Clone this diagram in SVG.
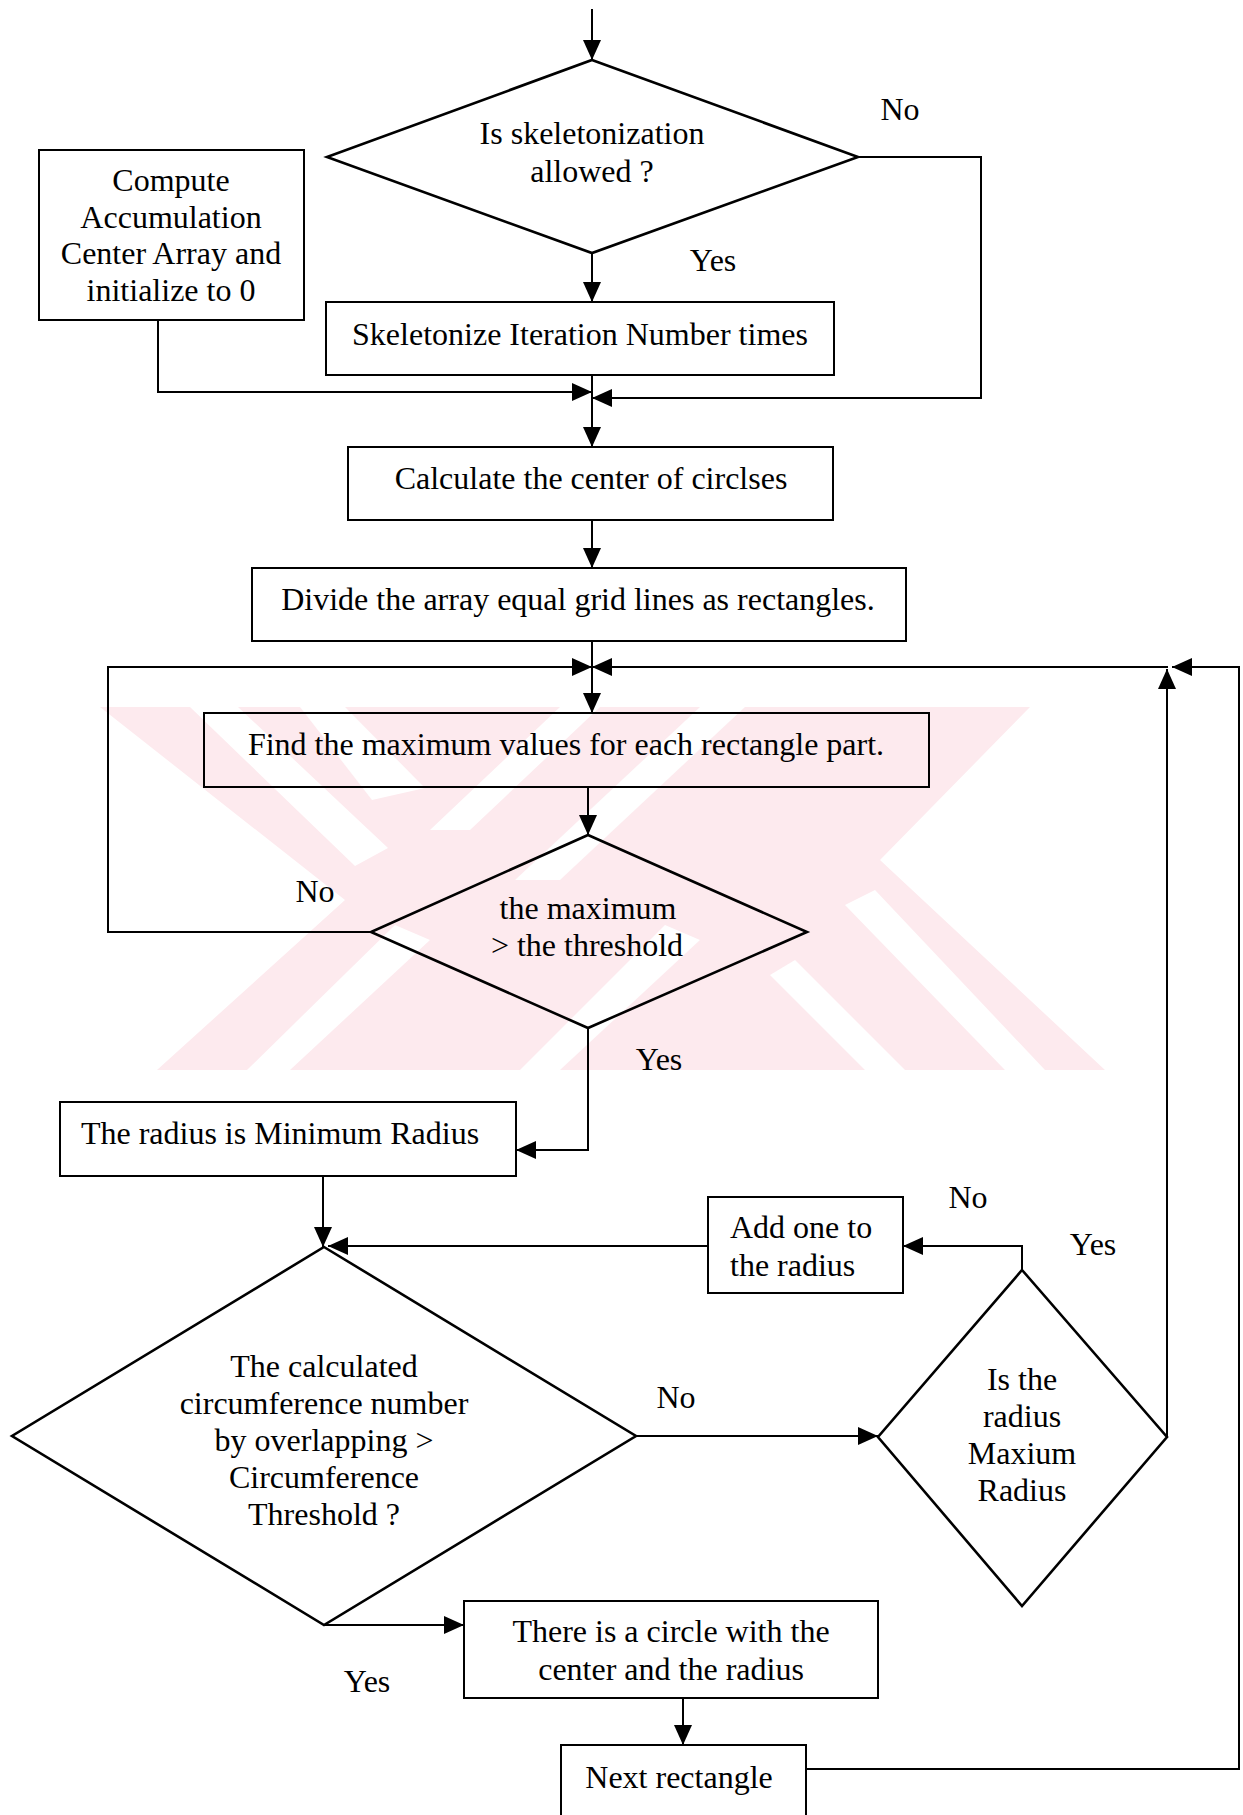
<svg xmlns="http://www.w3.org/2000/svg" width="1243" height="1815" viewBox="0 0 1243 1815">
  <defs>
    <marker id="arrow" viewBox="0 0 20 18" refX="20" refY="9" markerWidth="20" markerHeight="18" markerUnits="userSpaceOnUse" orient="auto">
      <path d="M0,0 L20,9 L0,18 z" fill="#000"/>
    </marker>
  </defs>
  <style>
    .box { fill: none; stroke: #000; stroke-width: 2; }
    .dia { fill: none; stroke: #000; stroke-width: 2.6; stroke-linejoin: miter; }
    .edge { fill: none; stroke: #000; stroke-width: 2; marker-end: url(#arrow); }
    text { font-family: "Liberation Serif", "Times New Roman", serif; font-size: 32px; fill: #000; }
    .c { text-anchor: middle; }
    .wm { fill: #fdeaee; }
    .gap { fill: #fff; }
  </style>

  <rect x="0" y="0" width="1243" height="1815" fill="#fff"/>

  <!-- faint background emblem: pale field cut by diagonal stripes -->
  <g id="emblem">
    <polygon class="wm" points="100,707 1030,707 880,860 1105,1070 157,1070 345,900"/>
    <polygon class="gap" points="190,707 238,707 388,848 355,866"/>
    <polygon class="gap" points="300,707 345,707 425,788 372,800"/>
    <polygon class="gap" points="560,707 600,707 470,830 430,830"/>
    <polygon class="gap" points="700,707 745,707 560,880 515,880"/>
    <polygon class="gap" points="247,1070 290,1070 430,940 395,925"/>
    <polygon class="gap" points="520,1070 560,1070 700,940 665,925"/>
    <polygon class="gap" points="845,905 875,890 1045,1070 1005,1070"/>
    <polygon class="gap" points="770,975 795,960 905,1070 865,1070"/>
  </g>

  <!-- connectors -->
  <g id="connectors">
    <path class="edge" d="M592,9 V60"/>
    <path class="edge" d="M592,253 V302"/>
    <path class="edge" d="M858,157 H981 V398 H592"/>
    <path class="edge" d="M158,320 V392 H592"/>
    <path class="edge" d="M592,375 V447"/>
    <path class="edge" d="M592,520 V568"/>
    <path class="edge" d="M592,641 V713"/>
    <path class="edge" d="M371,932 H108 V667 H592"/>
    <path class="edge" d="M1168,667 H592"/>
    <path class="edge" d="M806,1769 H1239 V667 H1172"/>
    <path class="edge" d="M1167,1437 V669"/>
    <path class="edge" d="M588,787 V835"/>
    <path class="edge" d="M588,1028 V1150 H516"/>
    <path class="edge" d="M323,1176 V1247"/>
    <path class="edge" d="M1022,1270 V1246 H903"/>
    <path class="edge" d="M708,1246 H328"/>
    <path class="edge" d="M636,1436 H878"/>
    <path class="edge" d="M324,1625 H464"/>
    <path class="edge" d="M683,1698 V1745"/>
  </g>

  <!-- decision: skeletonization -->
  <g id="n-skel-allowed">
    <polygon class="dia" points="592,60 858,157 592,253 327,157"/>
    <text class="c" x="592" y="144">Is skeletonization</text>
    <text class="c" x="592" y="182">allowed ?</text>
  </g>

  <g id="n-compute-acc">
    <rect class="box" x="39" y="150" width="265" height="170"/>
    <text class="c" x="171" y="191">Compute</text>
    <text class="c" x="171" y="228">Accumulation</text>
    <text class="c" x="171" y="264">Center Array and</text>
    <text class="c" x="171" y="301">initialize to 0</text>
  </g>

  <g id="n-skeletonize">
    <rect class="box" x="326" y="302" width="508" height="73"/>
    <text class="c" x="580" y="345">Skeletonize Iteration Number times</text>
  </g>

  <g id="n-calc-center">
    <rect class="box" x="348" y="447" width="485" height="73"/>
    <text class="c" x="591" y="489">Calculate the center of circlses</text>
  </g>

  <g id="n-divide">
    <rect class="box" x="252" y="568" width="654" height="73"/>
    <text class="c" x="578" y="610">Divide the array equal grid lines as rectangles.</text>
  </g>

  <g id="n-find-max">
    <rect class="box" x="204" y="713" width="725" height="74"/>
    <text class="c" x="566" y="755">Find the maximum values for each rectangle part.</text>
  </g>

  <g id="n-threshold">
    <polygon class="dia" points="588,835 807,932 588,1028 371,932"/>
    <text class="c" x="588" y="919">the maximum</text>
    <text class="c" x="587" y="956">&gt; the threshold</text>
  </g>

  <g id="n-min-radius">
    <rect class="box" x="60" y="1102" width="456" height="74"/>
    <text class="c" x="280" y="1144">The radius is Minimum Radius</text>
  </g>

  <g id="n-circumference">
    <polygon class="dia" points="324,1247 636,1436 324,1625 12,1436"/>
    <text class="c" x="324" y="1377">The calculated</text>
    <text class="c" x="324" y="1414">circumference number</text>
    <text class="c" x="324" y="1451">by overlapping &gt;</text>
    <text class="c" x="324" y="1488">Circumference</text>
    <text class="c" x="324" y="1525">Threshold ?</text>
  </g>

  <g id="n-add-one">
    <rect class="box" x="708" y="1197" width="195" height="96"/>
    <text x="730" y="1238">Add one to</text>
    <text x="730" y="1276">the radius</text>
  </g>

  <g id="n-max-radius">
    <polygon class="dia" points="1022,1270 1167,1437 1022,1606 878,1437"/>
    <text class="c" x="1022" y="1390">Is the</text>
    <text class="c" x="1022" y="1427">radius</text>
    <text class="c" x="1022" y="1464">Maxium</text>
    <text class="c" x="1022" y="1501">Radius</text>
  </g>

  <g id="n-circle-found">
    <rect class="box" x="464" y="1601" width="414" height="97"/>
    <text class="c" x="671" y="1642">There is a circle with the</text>
    <text class="c" x="671" y="1680">center and the radius</text>
  </g>

  <g id="n-next-rect">
    <rect class="box" x="561" y="1745" width="245" height="80"/>
    <text class="c" x="679" y="1788">Next rectangle</text>
  </g>

  <!-- branch labels -->
  <g id="labels">
    <text class="c" x="900" y="120">No</text>
    <text class="c" x="713" y="271">Yes</text>
    <text class="c" x="315" y="902">No</text>
    <text class="c" x="659" y="1070">Yes</text>
    <text class="c" x="968" y="1208">No</text>
    <text class="c" x="1093" y="1255">Yes</text>
    <text class="c" x="676" y="1408">No</text>
    <text class="c" x="367" y="1692">Yes</text>
  </g>
</svg>
